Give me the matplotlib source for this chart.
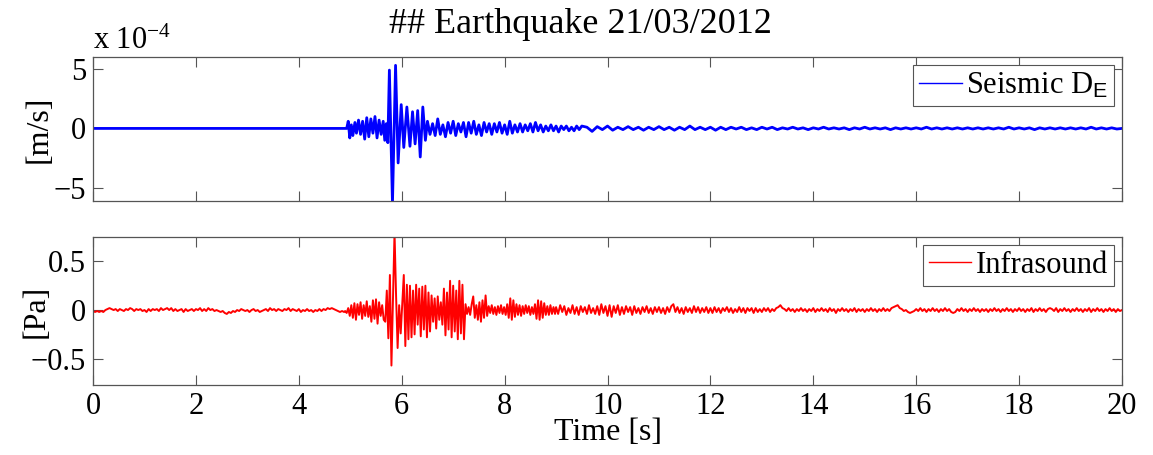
import numpy as np
import matplotlib
matplotlib.use("Agg")
import matplotlib.pyplot as plt

# ---- seismic trace, values in units of 1e-4 m/s ----
# quiet before arrival
seis_quiet_t = [0.0, 4.93]
seis_quiet_v = [0.0, 0.0]
# arrival and main burst (peaks / troughs)
seis_burst_t = [4.96, 4.99, 5.02, 5.05, 5.09, 5.12, 5.16, 5.20, 5.24, 5.28,
                5.32, 5.36, 5.40, 5.44, 5.48, 5.52, 5.56, 5.60, 5.64, 5.67,
                5.70, 5.73, 5.76, 5.82, 5.88, 5.93, 5.99, 6.04, 6.10, 6.16,
                6.21, 6.26, 6.31, 6.36, 6.41, 6.46, 6.50]
seis_burst_v = [0.6, -0.8, 0.3, -0.6, 0.5, -0.4, 0.7, -0.5, 0.6, -0.9,
                0.9, -0.7, 0.8, -0.4, 1.0, -0.8, 0.7, -0.5, 0.6, -1.0,
                0.4, -1.2, 4.9, -6.3, 5.3, -2.9, 2.0, -1.6, 1.8, -1.5,
                1.4, -1.3, 1.5, -2.4, 1.8, -1.0, 0.6]
# coda, one sample every 0.05 s from 6.55 s
seis_coda_start = 6.55
seis_coda_step = 0.05
seis_coda_v = [-0.5, 0.4, -0.6, 0.8, -0.5, 0.3, -0.7, 0.5, -0.4, 0.6,
               -0.6, 0.4, -0.3, 0.5, -0.7, 0.5, -0.4, 0.6, -0.5, 0.3,
               -0.6, 0.5, -0.3, 0.4, -0.5, 0.4, -0.3, 0.5, -0.4, 0.3,
               -0.5, 0.6, -0.4, 0.3, -0.3, 0.4, -0.3, 0.3, -0.2, 0.4,
               -0.3, 0.5, -0.2, 0.3, -0.3, 0.2, -0.2, 0.3, -0.2, 0.2,
               -0.3, 0.2, -0.1, 0.2, -0.2, 0.1, -0.2, 0.2, -0.1, 0.2]
# tail, one sample every 0.1 s from 9.6 s
seis_tail_start = 9.6
seis_tail_step = 0.1
seis_tail_v = [0.1, -0.25, 0.15, -0.1, 0.2, -0.15, 0.1, -0.1, 0.15, -0.1,
               0.1, -0.15, 0.1, -0.1, 0.15, -0.1, 0.1, -0.15, 0.1, -0.1,
               0.2, -0.1, 0.1, -0.1, 0.1, -0.15, 0.1, -0.1, 0.1, -0.05,
               0.1, -0.1, 0.05, -0.1, 0.1, -0.05, 0.1, -0.1, 0.05, -0.05,
               0.1, -0.05, 0.05, -0.1, 0.05, -0.05, 0.1, -0.05, 0.05, -0.05,
               0.05, -0.1, 0.05, -0.05, 0.1, -0.05, 0.05, -0.05, 0.05, -0.1,
               0.05, -0.05, 0.05, -0.05, 0.05, -0.05, 0.1, -0.05, 0.05, -0.05,
               0.05, -0.05, 0.05, -0.05, 0.05, -0.05, 0.05, -0.05, 0.05, -0.05,
               0.05, -0.05, 0.1, -0.05, 0.05, -0.05, 0.05, -0.1, 0.05, -0.05,
               0.05, -0.05, 0.05, -0.05, 0.05, -0.05, 0.05, -0.05, 0.1, -0.05,
               0.05, -0.05, 0.05, -0.05, 0.0]

# ---- infrasound trace, values in Pa ----
# background noise before the event, every 0.04 s
infra_quiet_start = 0.0
infra_quiet_step = 0.04
infra_quiet_v = [
    -0.01, -0.02, -0.01, -0.02, -0.01, -0.02, 0.00, 0.01, 0.02, 0.01, 0.00, 0.01, -0.01,
    0.01, 0.00, -0.01, 0.01, 0.00, 0.02, 0.01, -0.01, 0.01, 0.00, 0.01, -0.01,
    0.00, -0.02, 0.01, -0.01, 0.01, 0.00, 0.01, -0.01, 0.02, 0.00, 0.01, 0.02, 0.00,
    0.02, -0.01, 0.01, -0.01, 0.00, 0.01, -0.02, 0.01, -0.01, 0.00, 0.01, -0.01,
    0.01, 0.00, 0.02, -0.01, 0.01, -0.01, 0.02, 0.00, 0.01, -0.01, 0.00, -0.01, -0.02,
    -0.01, -0.03, -0.04, -0.02, -0.03, -0.01, -0.02, 0.00, -0.01, 0.01, 0.00, -0.01,
    0.00, -0.02, 0.00, 0.01, -0.01, 0.00, -0.02, -0.01, 0.00, 0.01, -0.01, 0.02, 0.00,
    0.01, -0.01, 0.01, 0.00, -0.01, 0.01, 0.00, 0.02, -0.01, 0.01, 0.00, -0.01,
    0.01, -0.02, 0.00, -0.01, 0.01, -0.01, 0.00, -0.02, 0.00, -0.01, 0.01, -0.01,
    0.01, 0.00, 0.02, 0.01, 0.02, 0.01, 0.00, -0.01, -0.02, -0.01, -0.02]
# event, every 0.03 s from 4.90 s
infra_burst_start = 4.90
infra_burst_step = 0.03
infra_burst_v = [-0.01, -0.03, 0.02, -0.06, 0.05, -0.08, 0.07, -0.10, 0.06, -0.05,
                 0.08, -0.09, 0.05, -0.06, 0.09, -0.07, 0.04, -0.12, 0.10, -0.09,
                 0.11, -0.14, 0.08, -0.06, 0.05, -0.10, -0.12, 0.20, -0.29, 0.36,
                 -0.57, 0.10, 0.80, 0.15, -0.39, 0.05, -0.24, 0.05, 0.36, -0.37,
                 0.26, -0.30, 0.25, -0.28, 0.20, -0.25, 0.26, -0.15, 0.22, -0.27,
                 0.24, -0.20, 0.25, -0.28, 0.18, -0.22, 0.15, -0.12, 0.12, -0.19,
                 0.14, -0.10, 0.08, -0.15, 0.22, -0.26, 0.18, -0.20, 0.30, -0.28,
                 0.25, -0.22, 0.20, -0.30, 0.30, -0.24, 0.26, -0.30, 0.06, -0.04,
                 0.03, -0.05, 0.06, 0.14, -0.08, 0.05, -0.10, 0.08, -0.12, 0.10,
                 -0.08, 0.15, -0.06, 0.04, -0.03, 0.05, -0.04, 0.03, -0.05, 0.04,
                 -0.03, 0.05, -0.04, 0.03, -0.05, 0.06, -0.08, 0.12, -0.10, 0.10,
                 -0.07, 0.06, -0.05, 0.05, -0.06, 0.04, -0.04, 0.05, -0.03, 0.04,
                 -0.05, 0.03, -0.04, 0.06, -0.09, 0.10, -0.10, 0.09, -0.08, 0.07,
                 -0.05, 0.04, -0.05, 0.05, -0.04, 0.03, -0.04]
# noise after the event, every 0.04 s from 9.00 s
infra_tail_start = 9.00
infra_tail_step = 0.04
infra_tail_v = [
    0.03, -0.04, 0.05, -0.02, 0.04, -0.05, 0.02, -0.03, 0.05, -0.04, 0.03, -0.05, 0.04,
    -0.02, 0.03, -0.04, 0.05, -0.03, 0.02, -0.04, 0.04, -0.05, 0.06, -0.03, 0.04,
    -0.06, 0.05, -0.07, 0.04, -0.03, 0.05, -0.05, 0.03, -0.04, 0.04, -0.02, 0.03, -0.05,
    0.04, -0.03, 0.02, -0.04, 0.03, -0.02, 0.04, -0.03, 0.02, -0.04, 0.03, -0.02,
    0.03, -0.03, 0.02, -0.04, 0.03, -0.02, 0.04, 0.06, -0.02, 0.03, -0.03, 0.02, -0.04,
    0.03, -0.02, 0.02, -0.03, 0.04, -0.02, 0.03, -0.03, 0.02, -0.02, 0.03, -0.03,
    0.02, -0.03, 0.03, -0.02, 0.02, -0.03, 0.02, -0.01, 0.03, -0.02, 0.02, -0.03, 0.01,
    -0.02, 0.03, -0.02, 0.02, -0.03, 0.02, -0.01, 0.02, -0.03, 0.02, -0.02, 0.01,
    -0.02, 0.02, -0.01, 0.02, -0.02, 0.01, -0.01, 0.02, 0.03, 0.05, 0.02, 0.01, -0.01,
    0.02, -0.01, 0.01, -0.02, 0.01, -0.01, 0.02, -0.01, 0.01, -0.02, 0.01, -0.01,
    0.02, -0.02, 0.01, -0.01, 0.02, -0.01, 0.01, -0.02, 0.02, -0.01, 0.01, -0.03, 0.01,
    -0.01, 0.02, -0.01, 0.01, -0.02, 0.01, -0.01, 0.02, -0.02, 0.01, -0.01, 0.01,
    -0.02, 0.01, -0.01, 0.02, -0.01, 0.01, -0.02, 0.01, -0.01, 0.02, -0.01, 0.01, -0.01,
    0.02, 0.03, 0.04, 0.05, 0.02, 0.01, -0.01, 0.00, -0.02, -0.03, -0.02, -0.01,
    0.01, -0.01, 0.02, -0.01, 0.01, -0.02, 0.01, -0.01, 0.02, -0.01, 0.01, -0.02, 0.01,
    -0.01, 0.02, -0.01, 0.01, -0.02, -0.03, -0.02, 0.01, -0.01, 0.02, -0.01, 0.01,
    -0.02, 0.01, -0.01, 0.02, -0.01, 0.01, -0.02, 0.01, -0.01, 0.01, -0.02, 0.01, -0.01,
    0.02, -0.01, 0.01, -0.02, 0.01, -0.01, 0.02, -0.01, 0.01, -0.02, 0.01, -0.01,
    0.02, -0.01, 0.01, -0.02, 0.01, -0.01, 0.02, -0.02, 0.01, -0.01, 0.02, -0.01, 0.01,
    -0.02, 0.01, 0.02, 0.01, -0.01, 0.02, -0.02, 0.01, -0.01, 0.02, -0.01, 0.01,
    -0.02, 0.01, -0.01, 0.02, -0.01, 0.01, -0.02, 0.01, -0.01, 0.02, -0.02, 0.01, -0.01,
    0.02, -0.01, 0.01, -0.02, 0.01, -0.01, 0.02, -0.01, 0.01, -0.02, 0.01, -0.01, 0.00]


def regular(start, step, values):
    t = start + step * np.arange(len(values))
    return t, np.array(values)


def build_seismic():
    t_coda, v_coda = regular(seis_coda_start, seis_coda_step, seis_coda_v)
    t_tail, v_tail = regular(seis_tail_start, seis_tail_step, seis_tail_v)
    t = np.concatenate([seis_quiet_t, seis_burst_t, t_coda, t_tail])
    v = np.concatenate([seis_quiet_v, seis_burst_v, v_coda, v_tail])
    return t, v


def build_infra():
    parts = [regular(infra_quiet_start, infra_quiet_step, infra_quiet_v),
             regular(infra_burst_start, infra_burst_step, infra_burst_v),
             regular(infra_tail_start, infra_tail_step, infra_tail_v)]
    t = np.concatenate([p[0] for p in parts])
    v = np.concatenate([p[1] for p in parts])
    return t, v


def style_axes(ax):
    # matlab-like look: ticks inside on all four sides, grey box
    ax.tick_params(direction="in", top=True, right=True, length=7,
                   width=0.8, color="#555555", labelsize=22, pad=5)
    for s in ax.spines.values():
        s.set_color("#555555")
        s.set_linewidth(0.9)
    ax.set_xlim(0, 20)
    ax.set_xticks(range(0, 21, 2))


def add_legend(ax):
    leg = ax.legend(loc="upper right", fontsize=22, fancybox=False,
                    edgecolor="#555555", framealpha=1, borderaxespad=0.25,
                    handlelength=1.4, handletextpad=0.15, borderpad=0.2)
    leg.get_frame().set_linewidth(0.8)
    for line in leg.get_lines():
        line.set_linewidth(1.0)


def main():
    plt.rcParams["font.family"] = ["Liberation Serif", "DejaVu Serif"]
    plt.rcParams["mathtext.fontset"] = "custom"
    plt.rcParams["mathtext.rm"] = "Liberation Serif"
    plt.rcParams["mathtext.it"] = "Liberation Serif:italic"
    plt.rcParams["mathtext.sf"] = "Liberation Sans"

    fig = plt.figure(figsize=(11.53, 4.55), dpi=100)
    ax1 = fig.add_axes([0.0807, 0.5582, 0.8924, 0.3165])
    ax2 = fig.add_axes([0.0807, 0.1538, 0.8924, 0.3253])

    ts, vs = build_seismic()
    ti, vi = build_infra()

    ax1.plot(ts, vs, color="#0000ff", linewidth=2.0,
             label="Seismic D$_{\\mathsf{E}}$")
    style_axes(ax1)
    ax1.set_ylim(-6.1, 6.0)
    ax1.set_yticks([-5, 0, 5])
    ax1.set_xticklabels([])
    ax1.set_ylabel("[m/s]", fontsize=23)
    ax1.yaxis.set_label_coords(-0.038, 0.5)
    ax1.text(0.0, 1.01, "x 10$^{\\mathrm{-4}}$", transform=ax1.transAxes,
             fontsize=22, ha="left", va="bottom")
    ax1.set_title("## Earthquake 21/03/2012", fontsize=26, pad=17, x=0.474)
    add_legend(ax1)

    ax2.plot(ti, vi, color="#ff0000", linewidth=1.4, label="Infrasound")
    style_axes(ax2)
    ax2.set_ylim(-0.77, 0.75)
    ax2.set_yticks([-0.5, 0, 0.5])
    ax2.set_yticklabels(["\u22120.5", "0", "0.5"])
    ax2.set_ylabel("[Pa]", fontsize=23)
    ax2.yaxis.set_label_coords(-0.041, 0.5)
    ax2.set_xlabel("Time [s]", fontsize=23, labelpad=-2)
    add_legend(ax2)

    fig.savefig("out.png", dpi=100)


if __name__ == "__main__":
    main()
